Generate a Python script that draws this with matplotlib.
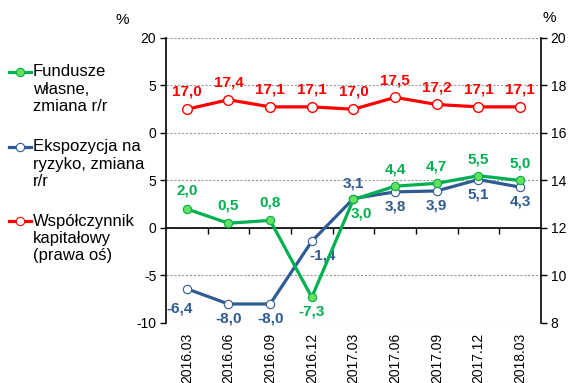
import numpy as np
import matplotlib
matplotlib.use("Agg")
import matplotlib.pyplot as plt
from matplotlib.lines import Line2D
from matplotlib.ticker import FixedLocator, NullFormatter

plt.rcParams['font.family'] = ['Liberation Sans', 'DejaVu Sans']

# quarters and series (y/y change in %, capital ratio on right axis)
kwartaly = ["2016.03", "2016.06", "2016.09", "2016.12", "2017.03",
            "2017.06", "2017.09", "2017.12", "2018.03"]
fundusze = [2.0, 0.5, 0.8, -7.3, 3.0, 4.4, 4.7, 5.5, 5.0]
ekspozycja = [-6.4, -8.0, -8.0, -1.4, 3.1, 3.8, 3.9, 5.1, 4.3]
wspolczynnik = [17.0, 17.4, 17.1, 17.1, 17.0, 17.5, 17.2, 17.1, 17.1]

# left axis tick labels as printed
lewe_ticki = [-10, -5, 0, 5, 10, 15, 20]
lewe_etykiety = ["-10", "-5", "0", "5", "0", "5", "20"]
prawe_ticki = [8, 10, 12, 14, 16, 18, 20]

GREEN = "#00B050"
GREEN_FACE = "#66E05A"
BLUE = "#2F5B93"
RED = "#FF0000"

fig = plt.figure(figsize=(5.81, 3.83), dpi=100)
ax = fig.add_axes([0.2857, 0.1567, 0.931 - 0.2857, 0.9008 - 0.1567])
ax2 = ax.twinx()

x = np.arange(len(kwartaly))

ax.set_xlim(-0.5, len(kwartaly) - 0.5)
ax.set_ylim(-10, 20)
ax2.set_ylim(8, 20)

# dashed grid, solid zero line as x axis
ax.set_yticks(lewe_ticki)
ax.set_yticklabels(lewe_etykiety)
ax.yaxis.grid(True, linestyle=(0, (2, 1.5)), color="#9a9a9a", linewidth=0.8)
ax.set_axisbelow(True)
ax.spines['top'].set_visible(False)
ax.spines['right'].set_visible(False)
ax.spines['bottom'].set_position(('data', 0))
ax.spines['bottom'].set_linewidth(1.2)
ax.spines['left'].set_linewidth(1.2)
ax.tick_params(axis='y', direction='out', length=4, width=1, labelsize=10, pad=3)

# small ticks between quarters on the zero line
ax.xaxis.set_major_locator(FixedLocator(x))
ax.xaxis.set_major_formatter(NullFormatter())
ax.tick_params(axis='x', which='major', length=0)
ax.xaxis.set_minor_locator(FixedLocator(x[:-1] + 0.5))
ax.tick_params(axis='x', which='minor', direction='out', length=4, width=1)

sec = ax.secondary_xaxis('bottom')
sec.set_xticks(x)
sec.set_xticklabels(kwartaly, rotation=90, fontsize=10)
sec.tick_params(length=0, pad=7)
sec.spines['bottom'].set_visible(False)

for s in ['top', 'left', 'bottom']:
    ax2.spines[s].set_visible(False)
ax2.spines['right'].set_linewidth(1.2)
ax2.set_yticks(prawe_ticki)
ax2.tick_params(axis='y', direction='out', length=4, width=1, labelsize=10, pad=3)

# lines
ax.plot(x, fundusze, color=GREEN, lw=2.3, marker='o', ms=6,
        mfc=GREEN_FACE, mec=GREEN, mew=0.8, zorder=4)
ax.plot(x, ekspozycja, color=BLUE, lw=2.3, marker='o', ms=6,
        mfc='white', mec=BLUE, mew=0.8, zorder=3)
ax2.plot(x, wspolczynnik, color=RED, lw=2.3, marker='o', ms=7,
         mfc='white', mec=RED, mew=1.0, zorder=3)


def fmt(v):
    return f"{v:.1f}".replace(".", ",")


lab = dict(fontsize=11, fontweight='bold', ha='center', va='center')

# offsets in points (dx, dy) for each label
green_off = [(0, 13), (0, 13), (0, 13), (0, -10), (6, -10), (0, 12), (0, 12), (0, 12), (0, 12)]
blue_off = [(-5, -14), (0, -10.5), (0, -10.5), (8, -10), (0, 11), (0, -10.5), (0, -10.5), (0, -10.5), (0, -10.5)]

for i, v in enumerate(fundusze):
    ax.annotate(fmt(v), (x[i], v), xytext=green_off[i], textcoords='offset points',
                color=GREEN, **lab)
for i, v in enumerate(ekspozycja):
    ax.annotate(fmt(v), (x[i], v), xytext=blue_off[i], textcoords='offset points',
                color=BLUE, **lab)
for i, v in enumerate(wspolczynnik):
    ax2.annotate(fmt(v), (x[i], v), xytext=(0, 12.5), textcoords='offset points',
                 color=RED, **lab)

# percent signs over both axes
fig.text(122 / 581, 1 - 20 / 383, "%", fontsize=11, ha='center', va='center')
fig.text(549 / 581, 1 - 18 / 383, "%", fontsize=11, ha='center', va='center')

# legend on the left
wpisy = [
    ("Fundusze\nwłasne,\nzmiana r/r", GREEN, GREEN_FACE, 71.5),
    ("Ekspozycja na\nryzyko, zmiana\nr/r", BLUE, 'white', 146.5),
    ("Współczynnik\nkapitałowy\n(prawa oś)", RED, 'white', 220.5),
]
for tekst, kol, face, ypx in wpisy:
    yf = 1 - ypx / 383
    fig.add_artist(Line2D([9 / 581, 31 / 581], [yf, yf], color=kol, lw=2.3,
                          transform=fig.transFigure))
    fig.add_artist(Line2D([20 / 581], [yf], marker='o', ms=6, mfc=face, mec=kol,
                          mew=0.8, transform=fig.transFigure))
    fig.text(33 / 581, yf + 7 / 383, tekst, fontsize=12, ha='left', va='top',
             linespacing=1.2)

fig.savefig("out.png", dpi=100)
